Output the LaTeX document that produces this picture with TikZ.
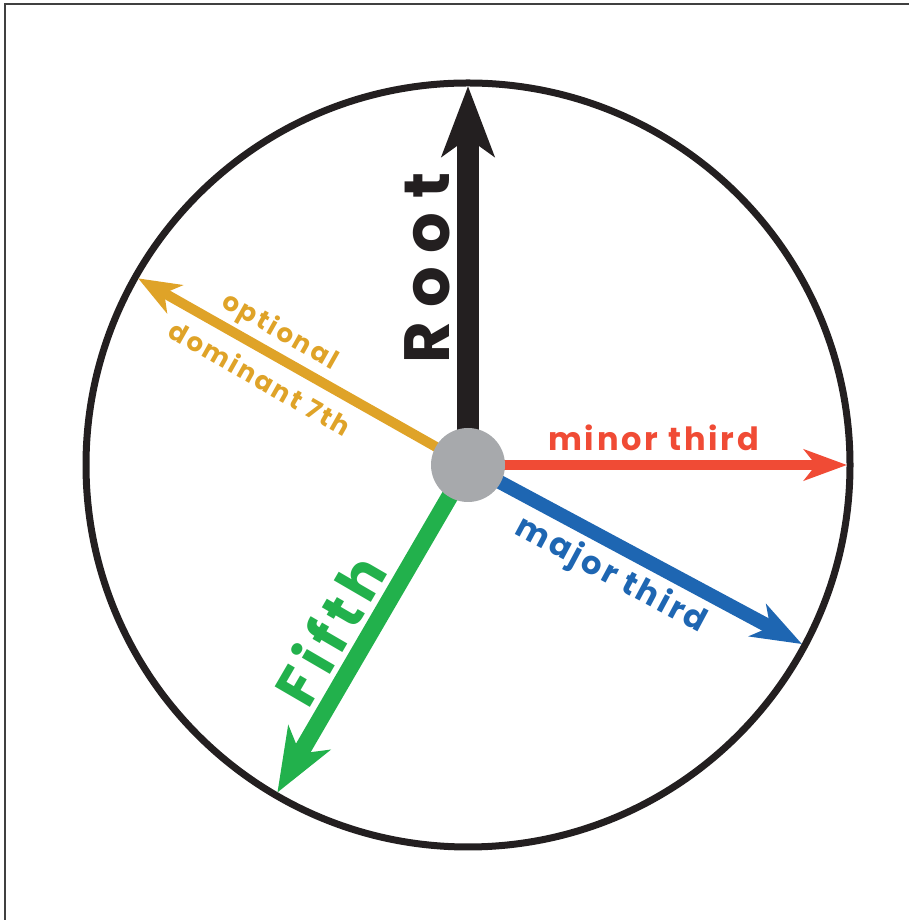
\documentclass[tikz,border=0pt]{standalone}
\usepackage{fontspec}
\setmainfont{Poppins}
\usepackage{tikz}
\usetikzlibrary{arrows.meta,calc}

\definecolor{inkblack}{HTML}{231F20}
\definecolor{minred}{HTML}{F04B35}
\definecolor{majblue}{HTML}{1E66B2}
\definecolor{fifgreen}{HTML}{22B14C}
\definecolor{sevorange}{HTML}{DFA328}
\definecolor{hubgrey}{HTML}{A7A9AC}

% wide, spaced label font
\newcommand{\lblfont}[2]{\fontsize{#1}{#1}\selectfont\bfseries\addfontfeature{LetterSpace=#2}}

\begin{document}
\begin{tikzpicture}[x=1pt,y=1pt,
  lbl/.style={sloped,inner sep=0pt},
  hub/.style={circle,fill=hubgrey,minimum size=74pt,inner sep=0pt}]
\useasboundingbox (0,0) rectangle (909,920);
\draw[black!75,line width=1.5pt] (5,0) -- (5,916) -- (909,916);
\coordinate (c) at (468,455);
\draw[inkblack,line width=7pt] (c) circle[radius=382];
% arrow tips sit on the rim
\foreach \nm/\ang in {rootTip/90,minTip/0,majTip/-28.2,fifTip/-120.2,sevTip/150.5}
  \coordinate (\nm) at ($(c)+(\ang:379)$);
\draw[inkblack,line width=22pt,-{Stealth[length=70pt,width=52pt,inset=18pt]}] (c) --
  node[lbl,above,outer sep=18pt,pos=0.52,font=\lblfont{64}{22}] {Root} (rootTip);
\draw[minred,line width=10pt,-{Stealth[length=43pt,width=31pt,inset=12pt]}] (c) --
  node[lbl,above,outer sep=14pt,pos=0.49,font=\lblfont{32}{9}] {minor third} (minTip);
\draw[majblue,line width=14pt,-{Stealth[length=50pt,width=36pt,inset=14pt]}] (c) --
  node[lbl,below,outer sep=13pt,pos=0.47,font=\lblfont{32}{9}] {major third} (majTip);
\draw[fifgreen,line width=17pt,-{Stealth[length=63pt,width=48pt,inset=18pt]}] (c) --
  node[lbl,above,outer sep=14pt,pos=0.56,font=\lblfont{58}{12}] {Fifth} (fifTip);
\draw[sevorange,line width=10pt,-{Stealth[length=42pt,width=32pt,inset=12pt]}] (c) --
  node[lbl,above,outer sep=9pt,pos=0.605,font=\lblfont{26}{9}] {optional}
  node[lbl,below,outer sep=16pt,pos=0.59,font=\lblfont{26}{9}] {dominant 7th} (sevTip);
\node[hub] (hub) at (c) {};
\end{tikzpicture}
\end{document}
